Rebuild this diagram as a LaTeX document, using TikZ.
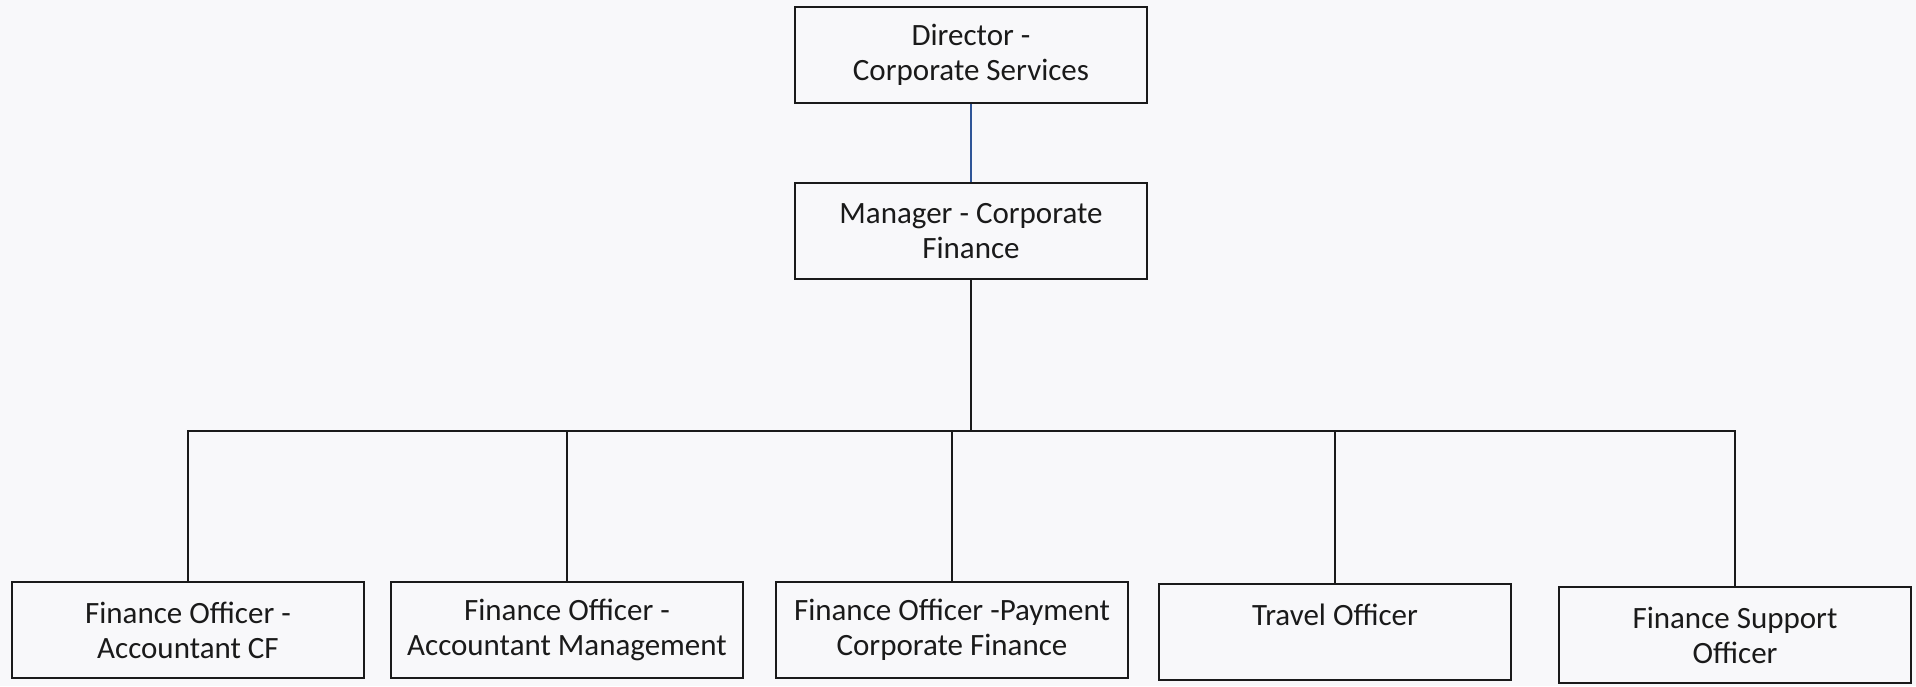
\documentclass[tikz,border=0pt]{standalone}
\usepackage{fontspec}
\setmainfont{Carlito}
\definecolor{paper}{HTML}{F8F8FA}
\definecolor{ink}{HTML}{1A1A1A}
\definecolor{linkblue}{HTML}{2F5597}
\begin{document}
\begin{tikzpicture}[x=0.5pt, y=-0.5pt,
    post/.style={draw=ink, line width=1.2pt, minimum width=176pt, minimum height=48pt,
      align=center, text=ink, font=\fontsize{15.5}{17.5}\selectfont},
    conn/.style={draw=ink, line width=1pt}]
    \fill[paper] (0,0) rectangle (1916,686);
    \useasboundingbox (0,0) rectangle (1916,686);
    \node[post] (dir) at (971,55) {Director -\\Corporate Services};
    \node[post] (mgr) at (971,231) {Manager - Corporate\\Finance};
    \coordinate (split) at (971,431);
    \node[post] (acf) at (188,630) {Finance Officer -\\Accountant CF};
    \node[post] (acm) at (567,630) {Finance Officer -\\Accountant Management};
    \node[post] (pay) at (952,630) {Finance Officer -Payment\\Corporate Finance};
    \node[post] (trv) at (1335,632) {Travel Officer\\~};
    \node[post] (fso) at (1735,635) {Finance Support\\Officer};
    \draw[conn, draw=linkblue] (dir) -- (mgr);
    \draw[conn] (mgr) -- (split);
    \foreach \n in {acf,acm,pay,trv,fso}
      \draw[conn] (\n.north) |- (split);
  \end{tikzpicture}
\end{document}
